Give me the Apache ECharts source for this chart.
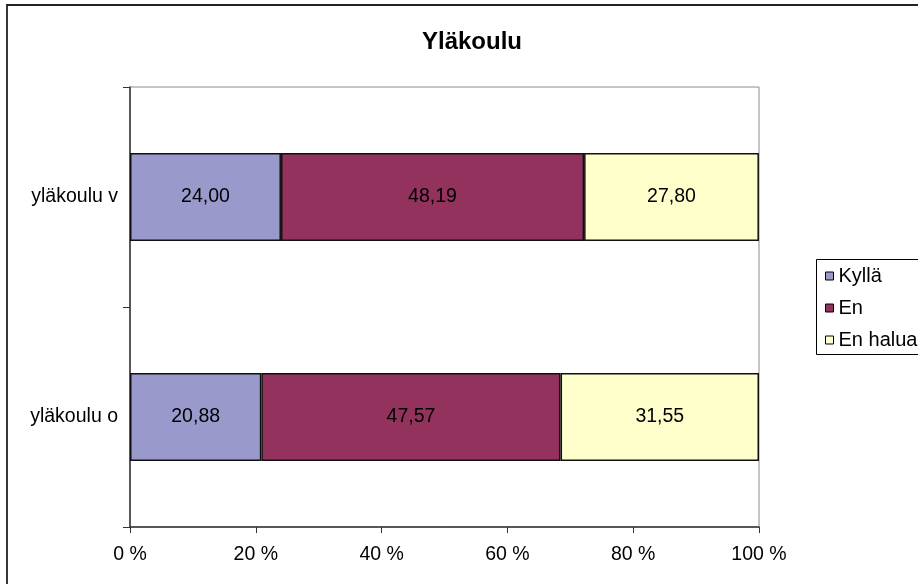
<!DOCTYPE html>
<html>
<head>
<meta charset="utf-8">
<script src="https://cdn.jsdelivr.net/npm/echarts@6/dist/echarts.min.js"></script>
<style>
  html, body { margin: 0; padding: 0; background: #fff; }
  #chart { width: 918px; height: 584px; }
</style>
</head>
<body>
<div id="chart"></div>
<script>
'use strict';

// categories bottom to top, like the original
var categories = ['yläkoulu o', 'yläkoulu v'];
var kylla = [20.88, 24.00];
var en = [47.57, 48.19];
var enHalua = [31.55, 27.80];
var xTicks = [0, 20, 40, 60, 80, 100];

var font = 'Arial, "Liberation Sans", sans-serif';

function fmt(v) {
    return v.toFixed(2).replace('.', ',');
}

function barSeries(name, data, color) {
    return {
        name: name,
        type: 'bar',
        stack: 'all',
        barWidth: 88,
        data: data,
        itemStyle: {
            color: color,
            borderColor: '#111',
            borderWidth: 1.5
        },
        label: {
            show: true,
            position: 'inside',
            color: '#000',
            fontFamily: font,
            fontSize: 19.5,
            formatter: function(p) {
                return fmt(p.value);
            }
        },
        emphasis: { disabled: true }
    };
}

var chart = echarts.init(document.getElementById('chart'));

var option = {
    animation: false,
    backgroundColor: '#fff',
    title: {
        text: 'Yläkoulu',
        left: 467,
        textAlign: 'center',
        top: 25,
        textStyle: {
            fontFamily: font,
            fontSize: 24,
            fontWeight: 'bold',
            color: '#000'
        }
    },
    grid: {
        left: 130,
        right: 159,
        top: 87,
        bottom: 57,
        show: true,
        borderColor: '#8c8c8c',
        borderWidth: 1,
        backgroundColor: '#fff'
    },
    legend: {
        orient: 'vertical',
        left: 825,
        top: 266,
        padding: 0,
        itemWidth: 8,
        itemHeight: 8,
        itemGap: 12,
        icon: 'rect',
        textStyle: {
            fontFamily: font,
            fontSize: 20,
            color: '#000'
        },
        itemStyle: {
            borderColor: '#000',
            borderWidth: 1
        },
        data: ['Kyllä', 'En', 'En halua']
    },
    xAxis: {
        type: 'value',
        min: 0,
        max: 100,
        interval: 20,
        splitLine: { show: false },
        axisLine: { show: true, lineStyle: { color: '#333', width: 1.5 } },
        axisTick: { show: true, length: 6, lineStyle: { color: '#333' } },
        axisLabel: {
            margin: 18,
            color: '#000',
            fontFamily: font,
            fontSize: 19.5,
            formatter: function(v) {
                return xTicks.indexOf(v) >= 0 ? v + ' %' : '';
            }
        }
    },
    yAxis: {
        type: 'category',
        data: categories,
        axisLine: { show: true, lineStyle: { color: '#333', width: 1.5 } },
        axisTick: { show: true, length: 7, lineStyle: { color: '#333' } },
        axisLabel: {
            margin: 12,
            color: '#000',
            fontFamily: font,
            fontSize: 19.5
        }
    },
    series: [
        barSeries('Kyllä', kylla, '#9999cc'),
        barSeries('En', en, '#94325e'),
        barSeries('En halua', enHalua, '#ffffcc')
    ],
    graphic: [
        {
            type: 'rect',
            shape: { x: 7, y: 5, width: 1000, height: 1000 },
            style: { fill: 'none', stroke: '#222', lineWidth: 1.8 },
            silent: true
        },
        {
            type: 'rect',
            shape: { x: 816.5, y: 259.5, width: 200, height: 95 },
            style: { fill: 'none', stroke: '#000', lineWidth: 1 },
            silent: true
        }
    ]
};

chart.setOption(option);
</script>
</body>
</html>
